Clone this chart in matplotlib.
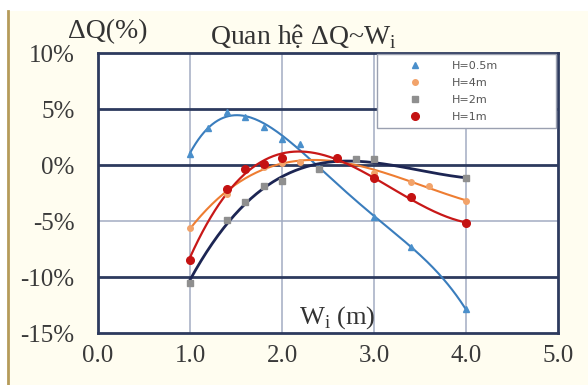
import numpy as np
import matplotlib
matplotlib.use("Agg")
import matplotlib.pyplot as plt
from matplotlib.patches import Rectangle
from matplotlib.lines import Line2D

# Relative discharge deviation versus width W_i for several depths H
x_h05 = [1.0, 1.2, 1.4, 1.6, 1.8, 2.0, 2.2, 2.4, 3.0, 3.4, 4.0]
y_h05 = [1.0, 3.3, 4.7, 4.3, 3.4, 2.3, 1.9, -0.3, -4.6, -7.3, -12.9]

x_h4 = [1.0, 1.4, 1.8, 2.0, 2.2, 2.6, 3.0, 3.4, 3.6, 4.0]
y_h4 = [-5.6, -2.6, -0.2, 0.2, 0.3, 0.5, -0.7, -1.5, -1.9, -3.2]

x_h2 = [1.0, 1.4, 1.6, 1.8, 2.0, 2.4, 2.8, 3.0, 4.0]
y_h2 = [-10.5, -4.9, -3.3, -1.9, -1.4, -0.4, 0.5, 0.5, -1.2]

x_h1 = [1.0, 1.4, 1.6, 1.8, 2.0, 2.6, 3.0, 3.4, 4.0]
y_h1 = [-8.5, -2.1, -0.4, 0.1, 0.6, 0.6, -1.2, -2.9, -5.2]

labels = ["H=0.5m", "H=4m", "H=2m", "H=1m"]
x_ticks = [0.0, 1.0, 2.0, 3.0, 4.0, 5.0]
y_ticks = [-15, -10, -5, 0, 5, 10]

serif = ["Liberation Serif", "DejaVu Serif"]
plt.rcParams["font.family"] = serif

fig = plt.figure(figsize=(5.88, 3.85), dpi=100)
fig.patch.set_facecolor("white")
# cream panel with a khaki left edge
fig.add_artist(Rectangle((8 / 588, 0), 1, 1 - 11 / 385, transform=fig.transFigure,
                         facecolor="#fffdf0", edgecolor="none", zorder=-10))
fig.add_artist(Line2D([8 / 588, 8 / 588], [0, 1 - 11 / 385], transform=fig.transFigure,
                      color="#b59b5a", lw=2, zorder=-9))

ax = fig.add_axes([98 / 588, 1 - 333 / 385, 460 / 588, 280 / 385])
ax.set_facecolor("white")
ax.set_xlim(0, 5)
ax.set_ylim(-15, 10)

# grid lines
for xv in [1, 2, 3, 4]:
    ax.axvline(xv, color="#a3acc2", lw=1.1, zorder=1)
for yv in [5, 0, -10]:
    ax.axhline(yv, color="#2d3a5e", lw=2.0, zorder=1)
ax.axhline(-5, color="#a3acc2", lw=1.1, zorder=1)

# (x, y, marker colour, line colour, marker, size, line width, trend order)
series = [
    (x_h05, y_h05, "#4a8fcb", "#3a7dbd", "^", 4.5, 1.5, 4),
    (x_h4, y_h4, "#f2a36a", "#ee7d32", "o", 4.0, 1.5, 3),
    (x_h2, y_h2, "#8f8f8f", "#1c2553", "s", 5.0, 2.0, 3),
    (x_h1, y_h1, "#c41212", "#c81818", "o", 5.5, 1.6, 3),
]

handles = []
for (xs, ys, mc, lc, mk, ms, lw, order), lab in zip(series, labels):
    xs = np.asarray(xs)
    ys = np.asarray(ys)
    coef = np.polyfit(xs, ys, order)
    xf = np.linspace(xs.min(), xs.max(), 200)
    ax.plot(xf, np.polyval(coef, xf), color=lc, lw=lw, zorder=3)
    ax.plot(xs, ys, linestyle="none", marker=mk, ms=ms, color=mc,
            markeredgecolor=mc, zorder=4)
    handles.append(Line2D([], [], linestyle="none", marker=mk, ms=ms,
                          color=mc, markeredgecolor=mc, label=lab))

ax.set_xticks(x_ticks)
ax.set_xticklabels([f"{v:.1f}" for v in x_ticks])
ax.set_yticks(y_ticks)
ax.set_yticklabels([f"{v}%" for v in y_ticks])
ax.tick_params(axis="both", length=0, labelsize=18, colors="#3a3a3a")
ax.tick_params(axis="y", pad=17)
ax.tick_params(axis="x", pad=9)

for sp in ax.spines.values():
    sp.set_color("#2d3a5e")
    sp.set_linewidth(2.0)

x0 = (377 - 98) / 460
leg = ax.legend(handles=handles, loc="upper left", mode="expand",
                bbox_to_anchor=(x0, 0.0, 0.996 - x0, 0.995),
                frameon=True, fancybox=False, edgecolor="#9aa0b0",
                framealpha=1.0, borderpad=0.6, labelspacing=0.62,
                handletextpad=0.5, borderaxespad=0.0, handlelength=5.6,
                prop={"family": "DejaVu Sans", "size": 8})
leg.get_frame().set_linewidth(1.0)
for t in leg.get_texts():
    t.set_color("#555555")
leg.set_zorder(6)

fig.text(68 / 588, 1 - 32 / 385, "ΔQ(%)", fontsize=20, color="#333333",
         va="center", ha="left")
fig.text(210 / 588, 1 - 37 / 385, "Quan hệ ΔQ~W$_\\mathregular{i}$", fontsize=20,
         color="#333333", va="center", ha="left")
ax.text(2.6, -13.6, "W$_\\mathregular{i}$ (m)", fontsize=19, color="#333333",
        ha="center", va="center", zorder=5)

fig.savefig("out.png", dpi=100)
